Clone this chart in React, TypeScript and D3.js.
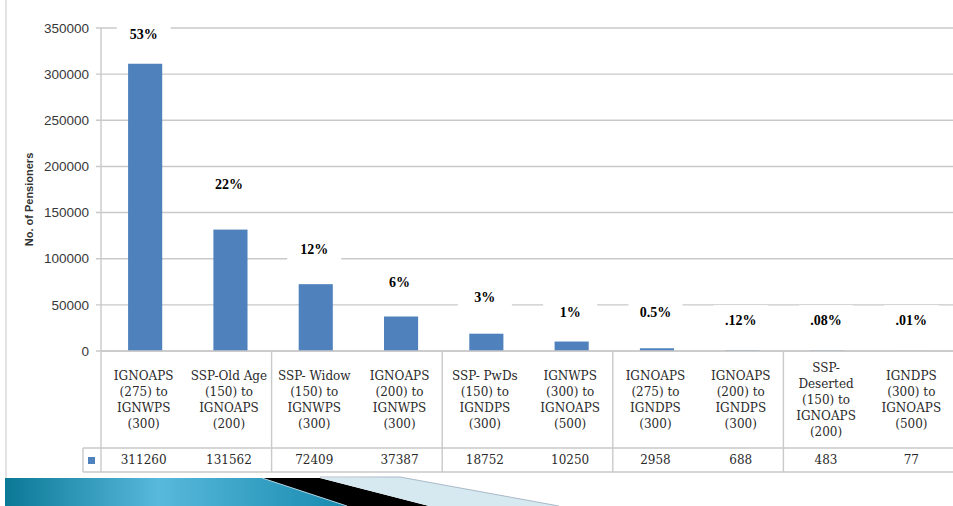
import { FC } from "react";
import * as d3 from "d3";

// categories (label lines), values and the percent labels
const categories: string[][] = [
  ["IGNOAPS", "(275) to", "IGNWPS", "(300)"],
  ["SSP-Old Age", "(150) to", "IGNOAPS", "(200)"],
  ["SSP- Widow", "(150) to", "IGNWPS", "(300)"],
  ["IGNOAPS", "(200) to", "IGNWPS", "(300)"],
  ["SSP- PwDs", "(150) to", "IGNDPS", "(300)"],
  ["IGNWPS", "(300) to", "IGNOAPS", "(500)"],
  ["IGNOAPS", "(275) to", "IGNDPS", "(300)"],
  ["IGNOAPS", "(200) to", "IGNDPS", "(300)"],
  ["SSP-", "Deserted", "(150) to", "IGNOAPS", "(200)"],
  ["IGNDPS", "(300) to", "IGNOAPS", "(500)"],
];
const pensioners = [311260, 131562, 72409, 37387, 18752, 10250, 2958, 688, 483, 77];
const shareLabels = ["53%", "22%", "12%", "6%", "3%", "1%", "0.5%", ".12%", ".08%", ".01%"];
// level (in pensioner units) where each percent label sits
const shareLevels = [343000, 181000, 110000, 75000, 58500, 42500, 42500, 33500, 33500, 33500];
const yTicks = [0, 50000, 100000, 150000, 200000, 250000, 300000, 350000];

const W = 953;
const H = 506;
const left = 101;
const right = 954;
const top = 28;
const base = 351;
const rowSplit = 448;
const tableBottom = 472;

const serif = "'DejaVu Serif', serif";
const grid = "#c9c9c9";

const App: FC = () => {
  const idx = categories.map((_, i) => String(i));
  const x = d3.scaleBand().domain(idx).range([left, right]).paddingInner(0.6).paddingOuter(0.3);
  const y = d3.scaleLinear().domain([0, 350000]).range([base, top]);
  const step = x.step();
  const colCenter = (i: number) => x(String(i))! + x.bandwidth() / 2;

  return (
    <div style={{ position: "absolute", left: 0, top: 0 }}>
      <svg width={W} height={H} style={{ display: "block", background: "#fff" }}>
        <defs>
          <linearGradient id="band" x1="0" x2="1" y1="0" y2="0">
            <stop offset="0" stopColor="#0b7896" />
            <stop offset="0.45" stopColor="#58b9dc" />
            <stop offset="1" stopColor="#178aae" />
          </linearGradient>
        </defs>

        {/* slide frame */}
        <line x1={6} x2={6} y1={0} y2={478} stroke="#d8d8d8" strokeWidth={1.5} />

        {/* gridlines */}
        {yTicks.map((t) => (
          <line key={t} x1={left - 5} x2={right} y1={y(t)} y2={y(t)} stroke={grid} strokeWidth={1.4} />
        ))}
        <line x1={left} x2={left} y1={top} y2={tableBottom} stroke={grid} strokeWidth={1.4} />

        {/* y tick labels */}
        {yTicks.map((t) => (
          <text
            key={t}
            x={89}
            y={y(t)}
            dy="0.35em"
            textAnchor="end"
            fontFamily="'Liberation Sans', Arial, sans-serif"
            fontSize={13.5}
            fill="#383838"
          >
            {t}
          </text>
        ))}
        <text
          transform={`translate(33,${(top + base) / 2 + 10}) rotate(-90)`}
          textAnchor="middle"
          fontFamily="'Liberation Sans', Arial, sans-serif"
          fontWeight="bold"
          fontSize={11}
          fill="#333"
        >
          No. of Pensioners
        </text>

        {/* bars */}
        {pensioners.map((v, i) => (
          <rect
            key={i}
            x={x(String(i))! + 1.5}
            y={y(v)}
            width={x.bandwidth()}
            height={base - y(v)}
            fill="#4f81bd"
          />
        ))}

        {/* percent labels on white boxes */}
        {shareLabels.map((s, i) => (
          <g key={s}>
            <rect x={colCenter(i) - 27} y={y(shareLevels[i]) - 15} width={54} height={30} fill="#fff" />
            <text
              x={colCenter(i)}
              y={y(shareLevels[i])}
              dy="0.35em"
              textAnchor="middle"
              fontFamily="'Liberation Serif', 'Times New Roman', serif"
              fontWeight="bold"
              fontSize={14}
              fill="#000"
            >
              {s}
            </text>
          </g>
        ))}

        {/* data table */}
        <line x1={left} x2={right} y1={base} y2={base} stroke={grid} strokeWidth={1.4} />
        <line x1={83} x2={right} y1={rowSplit} y2={rowSplit} stroke={grid} strokeWidth={1.4} />
        <line x1={83} x2={right} y1={tableBottom} y2={tableBottom} stroke={grid} strokeWidth={1.4} />
        <line x1={83} x2={83} y1={rowSplit} y2={tableBottom} stroke={grid} strokeWidth={1.4} />
        {[2, 4, 6, 8].map((k) => (
          <line
            key={k}
            x1={left + step * k}
            x2={left + step * k}
            y1={base}
            y2={tableBottom}
            stroke={grid}
            strokeWidth={1.4}
          />
        ))}
        <rect x={88} y={457} width={7} height={7} fill="#4f81bd" />

        {categories.map((lines, i) => (
          <text
            key={i}
            x={colCenter(i)}
            y={400 - ((lines.length - 1) * 16) / 2}
            textAnchor="middle"
            fontFamily={serif}
            fontSize={12}
            fill="#2a2a2a"
          >
            {lines.map((l, j) => (
              <tspan key={j} x={colCenter(i)} dy={j === 0 ? "0.35em" : 16}>
                {l}
              </tspan>
            ))}
          </text>
        ))}
        {pensioners.map((v, i) => (
          <text
            key={i}
            x={colCenter(i)}
            y={(rowSplit + tableBottom) / 2}
            dy="0.35em"
            textAnchor="middle"
            fontFamily={serif}
            fontSize={12}
            fill="#2a2a2a"
          >
            {v}
          </text>
        ))}

        {/* slide decoration */}
        <polygon points="5,478 262,478 347,506 5,506" fill="url(#band)" />
        <polygon points="262,478 320,478 429,506 347,506" fill="#000" />
        <polygon points="320,478 400,477 559,506 429,506" fill="#d6e9f0" />
        <line x1={262} y1={478} x2={347} y2={506} stroke="#a9d2e2" strokeWidth={1} />
        <line x1={320} y1={477} x2={400} y2={477} stroke="#9ab" strokeWidth={0.8} />
        <line x1={400} y1={477} x2={559} y2={506} stroke="#9ab" strokeWidth={0.8} />
      </svg>
    </div>
  );
};

export default App;
